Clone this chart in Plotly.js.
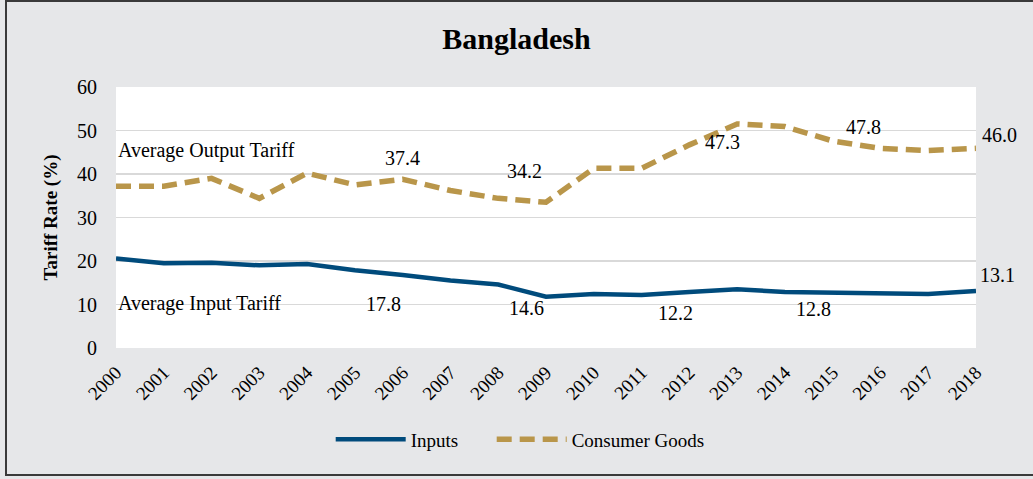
<!DOCTYPE html>
<html>
<head>
<meta charset="utf-8">
<script src="https://cdn.plot.ly/plotly-3.0.1.min.js"></script>
<style>
  html, body { margin: 0; padding: 0; background: #ffffff; }
  #chart { position: absolute; left: 0; top: 0; width: 1033px; height: 479px; }
  #frame { position: absolute; left: 5px; top: 0px; width: 1040px; height: 476px;
           border-left: 2px solid #3a3a3a; border-top: 2px solid #3a3a3a; border-bottom: 2px solid #3a3a3a;
           pointer-events: none; box-sizing: border-box; }
</style>
</head>
<body>
<div id="chart"></div>
<div id="frame"></div>
<script>
// ---- data ----
const years = [2000, 2001, 2002, 2003, 2004, 2005, 2006, 2007, 2008, 2009,
               2010, 2011, 2012, 2013, 2014, 2015, 2016, 2017, 2018];
const inputs = [20.6, 19.5, 19.6, 19.0, 19.3, 17.9, 16.8, 15.5, 14.6, 11.8,
                12.4, 12.2, 12.9, 13.5, 12.9, 12.8, 12.6, 12.4, 13.1];
const consumerGoods = [37.2, 37.2, 39.0, 34.4, 40.2, 37.5, 38.8, 36.2, 34.4, 33.5,
                       41.3, 41.3, 46.7, 51.5, 50.9, 47.6, 45.9, 45.4, 45.9];
const seriesNames = ["Inputs", "Consumer Goods"];
const labelTexts = ["Average Output Tariff", "37.4", "34.2", "47.3", "47.8", "46.0",
                    "Average Input Tariff", "17.8", "14.6", "12.2", "12.8", "13.1"];
const labelYears = [2000, 2006, 2008.55, 2012.7, 2015.65, 2018.5,
                    2000, 2005.6, 2008.6, 2011.7, 2014.6, 2018.45];
const labelValues = [45.5, 43.6, 40.7, 47.4, 50.8, 49.0,
                     10.3, 10.1, 9.2, 8.0, 9.0, 16.8];
const chartTitle = "Bangladesh";
const yTitle = "Tariff Rate (%)";

const serif = "Liberation Serif, Times New Roman, serif";
const x0 = years[0], x1 = years[years.length - 1];
const legendPad = "&nbsp;".repeat(6);

const traces = [
  { x: years, y: inputs, name: seriesNames[0] + legendPad, type: "scatter", mode: "lines",
    line: { color: "#004b7c", width: 4.5 } },
  { x: years, y: consumerGoods, name: seriesNames[1], type: "scatter", mode: "lines",
    line: { color: "#b9964a", width: 5.5, dash: "15px,8px" } }
];

// x positions in paper units so labels beyond the last year are still drawn
const annotations = labelTexts.map((t, i) => ({
  text: t, x: (labelYears[i] - x0) / (x1 - x0), y: labelValues[i], xref: "paper", yref: "y",
  showarrow: false,
  xanchor: (t.indexOf("Average") === 0) ? "left" : "center",
  yanchor: "middle",
  font: { family: serif, size: 20, color: "#000" }
}));

const layout = {
  width: 1033, height: 479,
  paper_bgcolor: "#e6e7e9",
  plot_bgcolor: "#ffffff",
  margin: { l: 116, r: 57, t: 87, b: 131 },
  title: { text: "<b>" + chartTitle + "</b>", x: 0.5, xref: "container", xanchor: "center",
           y: 0.92, yref: "container", yanchor: "middle",
           font: { family: serif, size: 30, color: "#000" } },
  showlegend: true,
  legend: { orientation: "h", x: 0.47, xanchor: "center", y: -0.35, yanchor: "middle",
            font: { family: serif, size: 19, color: "#000" }, bgcolor: "rgba(0,0,0,0)",
            itemwidth: 70 },
  xaxis: {
    range: [x0, x1], tickmode: "array", tickvals: years, ticktext: years.map(String),
    tickangle: -45, showgrid: false, zeroline: false, showline: false,
    ticks: "outside", ticklen: 5, tickcolor: "rgba(0,0,0,0)",
    tickfont: { family: serif, size: 19, color: "#000" }
  },
  yaxis: {
    range: [0, 60], dtick: 10, showgrid: true, gridcolor: "#d9d9d9", gridwidth: 1.5,
    zeroline: false, showline: false,
    ticks: "outside", ticklen: 14, tickcolor: "rgba(0,0,0,0)",
    tickfont: { family: serif, size: 20, color: "#000" },
    title: { text: "<b>" + yTitle + "</b>", standoff: 14,
             font: { family: serif, size: 19, color: "#000" } }
  },
  annotations: annotations
};

Plotly.newPlot("chart", traces, layout, { displayModeBar: false, staticPlot: true });
</script>
</body>
</html>
